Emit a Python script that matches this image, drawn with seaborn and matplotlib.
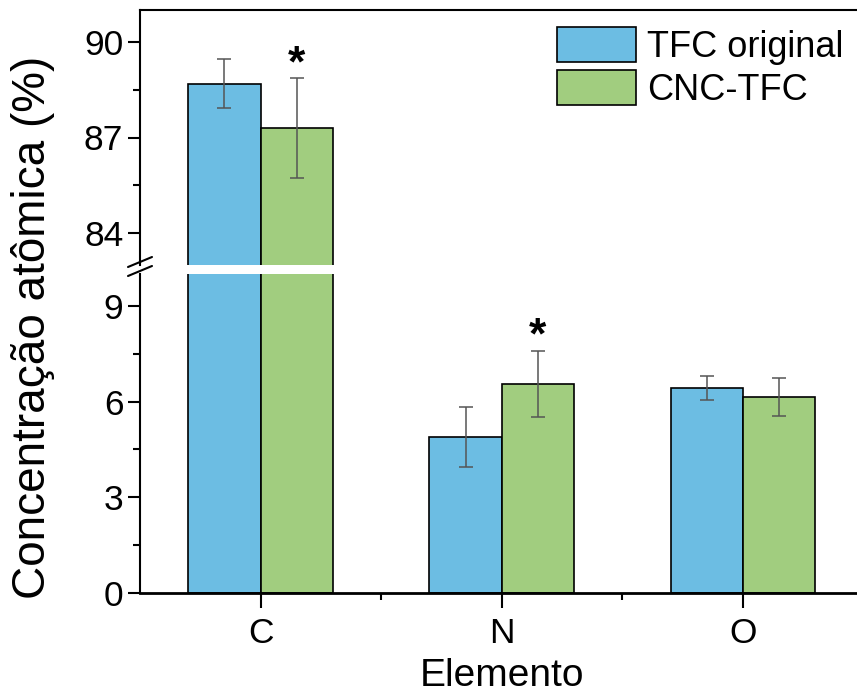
import matplotlib
matplotlib.use("Agg")
import matplotlib.pyplot as plt
import seaborn as sns
import pandas as pd
import numpy as np
from matplotlib.ticker import MultipleLocator, FixedLocator
from matplotlib.patches import Patch
from matplotlib.lines import Line2D

# ---- data ----
elements = ["C", "N", "O"]
series = ["TFC original", "CNC-TFC"]
tfc_values = [88.69, 4.88, 6.43]
tfc_errors = [0.77, 0.94, 0.37]
cnc_values = [87.29, 6.56, 6.14]
cnc_errors = [1.57, 1.03, 0.60]
significant_cnc = [True, True, False]
colors = ["#6CBDE3", "#A1CD7F"]

df = pd.DataFrame({
    "Elemento": elements * 2,
    "Serie": [series[0]] * 3 + [series[1]] * 3,
    "Valor": tfc_values + cnc_values,
})
errors = {series[0]: tfc_errors, series[1]: cnc_errors}

sns.set_style("ticks")
plt.rcParams["font.family"] = ["Liberation Sans", "DejaVu Sans"]
plt.rcParams["axes.linewidth"] = 1.5
for k in ("text.color", "axes.labelcolor", "xtick.color", "ytick.color", "axes.edgecolor"):
    plt.rcParams[k] = "black"

W, H = 857, 696
fig = plt.figure(figsize=(W / 100, H / 100), dpi=100)

left = 140 / W
width = 723.5 / W
ax_top = fig.add_axes([left, 1 - 265 / H, width, 255 / H])
ax_bot = fig.add_axes([left, 1 - 593 / H, width, 319 / H])

for ax in (ax_top, ax_bot):
    sns.barplot(data=df, x="Elemento", y="Valor", hue="Serie", order=elements,
                hue_order=series, palette=colors, saturation=1, width=0.6,
                errorbar=None, edgecolor="black", linewidth=1.2, legend=False, ax=ax)
    for cont, s in zip(ax.containers, series):
        xs = [p.get_x() + p.get_width() / 2 for p in cont.patches]
        ys = [p.get_height() for p in cont.patches]
        ax.errorbar(xs, ys, yerr=errors[s], fmt="none", ecolor="#555555",
                    elinewidth=1.1, capsize=5, capthick=1.1, zorder=5)
    ax.set_xlim(-0.5, 2.5)
    ax.set_xlabel("")
    ax.set_ylabel("")
    ax.tick_params(axis="y", which="major", direction="out", length=9, width=1.5,
                   labelsize=25.5, pad=3, colors="black")
    ax.tick_params(axis="y", which="minor", direction="out", length=5, width=1.5)
    ax.spines["right"].set_visible(False)

# Upper (broken) part
ax_top.set_ylim(83, 91)
ax_top.yaxis.set_major_locator(MultipleLocator(3))
ax_top.yaxis.set_minor_locator(MultipleLocator(1.5))
ax_top.spines["bottom"].set_visible(False)
ax_top.tick_params(axis="x", which="both", bottom=False, labelbottom=False)

# Lower part
ax_bot.set_ylim(0, 10)
ax_bot.yaxis.set_major_locator(MultipleLocator(3))
ax_bot.yaxis.set_minor_locator(MultipleLocator(1.5))
ax_bot.spines["top"].set_visible(False)
ax_bot.spines["bottom"].set_linewidth(2)
ax_bot.xaxis.set_minor_locator(FixedLocator([0.5, 1.5]))
ax_bot.tick_params(axis="x", which="major", direction="out", length=11, width=1.5,
                   labelsize=25.5, pad=6, colors="black")
ax_bot.tick_params(axis="x", which="minor", direction="out", length=5, width=1.5)
ax_bot.set_xlabel("Elemento", fontsize=28, labelpad=6, color="black")

# significance stars
for ax in (ax_top, ax_bot):
    cont = ax.containers[1]
    for p, v, e, sig in zip(cont.patches, cnc_values, cnc_errors, significant_cnc):
        lo, hi = ax.get_ylim()
        if sig and lo <= v + e <= hi:
            ax.annotate("*", xy=(p.get_x() + p.get_width() / 2, v + e),
                        xytext=(0, -5), textcoords="offset points", ha="center",
                        va="bottom", fontsize=32, fontweight="bold", color="black")

# break marks
for yb in (262, 271):
    fig.add_artist(Line2D([128 / W, 152 / W], [1 - (yb + 5) / H, 1 - (yb - 5) / H],
                          color="black", lw=1.5))

# y label
fig.text(33 / W, 1 - 327 / H, "Concentração atômica (%)", rotation=90,
         ha="center", va="center", fontsize=33, color="black")

# legend
handles = [Patch(facecolor=c, edgecolor="black", linewidth=1.2) for c in colors]
fig.legend(handles, series, loc="upper left", bbox_to_anchor=(557 / W, 1 - 27 / H),
           frameon=False, fontsize=26, handlelength=2.2, handleheight=1.1,
           handletextpad=0.3, labelspacing=0.15, borderpad=0, borderaxespad=0,
           labelcolor="black")

fig.savefig("out.png", dpi=100)
